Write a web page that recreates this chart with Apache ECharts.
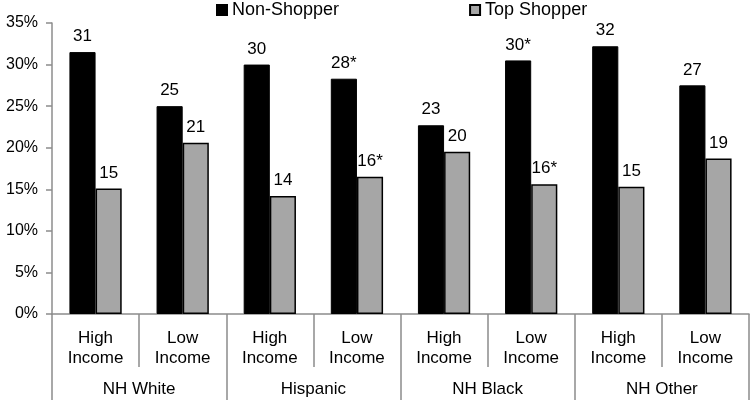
<!DOCTYPE html>
<html>
<head>
<meta charset="utf-8">
<script src="https://cdn.jsdelivr.net/npm/echarts@6/dist/echarts.min.js"></script>
<style>
  html, body { margin: 0; padding: 0; background: #fff; }
  #chart { width: 750px; height: 400px; }
</style>
</head>
<body>
<div id="chart"></div>
<script>
// 数据
const incomeLabels = ['High\nIncome', 'Low\nIncome', 'High\nIncome', 'Low\nIncome', 'High\nIncome', 'Low\nIncome', 'High\nIncome', 'Low\nIncome']
const groupLabels = ['NH White', 'Hispanic', 'NH Black', 'NH Other']
const nonShopper = [31.5, 25.0, 30.0, 28.3, 22.7, 30.5, 32.2, 27.5]
const topShopper = [15.1, 20.6, 14.2, 16.5, 19.5, 15.6, 15.3, 18.7]
const nonShopperText = ['31', '25', '30', '28*', '23', '30*', '32', '27']
const topShopperText = ['15', '21', '14', '16*', '20', '16*', '15', '19']
const yTicks = [0, 5, 10, 15, 20, 25, 30, 35]

const font = 'Liberation Sans, Arial, sans-serif'
const axisGray = '#8c8c8c'

const chart = echarts.init(document.getElementById('chart'))
const option = {
  animation: false,
  textStyle: { fontFamily: font },
  legend: {
    top: 1,
    left: 216,
    padding: 0,
    itemWidth: 10,
    itemHeight: 10,
    itemGap: 130,
    icon: 'rect',
    textStyle: { fontSize: 18, color: '#000', fontFamily: font },
    data: ['Non-Shopper', 'Top Shopper']
  },
  grid: {
    left: 52,
    right: 1,
    top: 23,
    bottom: 86
  },
  xAxis: [
    {
      type: 'category',
      data: incomeLabels,
      axisLine: { lineStyle: { color: axisGray, width: 1.5 } },
      axisTick: { show: true, interval: 0, length: 53, lineStyle: { color: axisGray, width: 1.5 } },
      axisLabel: { interval: 0, margin: 14, fontSize: 17, lineHeight: 20, color: '#000', fontFamily: font }
    },
    {
      type: 'category',
      position: 'bottom',
      data: groupLabels,
      axisLine: { show: false },
      axisTick: { show: true, interval: 0, length: 86, lineStyle: { color: axisGray, width: 1.5 } },
      axisLabel: { interval: 0, margin: 67, fontSize: 17, color: '#000', fontFamily: font }
    }
  ],
  yAxis: {
    type: 'value',
    min: yTicks[0],
    max: yTicks[yTicks.length - 1],
    interval: 5,
    splitLine: { show: false },
    axisLine: { show: true, lineStyle: { color: axisGray, width: 1.5 } },
    axisTick: { show: true, length: 6, lineStyle: { color: axisGray, width: 1.5 } },
    axisLabel: { formatter: '{value}%', fontSize: 16, margin: 14, color: '#000', fontFamily: font }
  },
  series: [
    {
      name: 'Non-Shopper',
      type: 'bar',
      xAxisIndex: 0,
      data: nonShopper,
      barGap: '0%',
      barCategoryGap: '40%',
      itemStyle: { color: '#000', borderColor: '#000', borderWidth: 1 },
      label: {
        show: true,
        position: 'top',
        distance: 7,
        fontSize: 17,
        color: '#000',
        fontFamily: font,
        formatter: (p) => nonShopperText[p.dataIndex]
      }
    },
    {
      name: 'Top Shopper',
      type: 'bar',
      xAxisIndex: 0,
      data: topShopper,
      itemStyle: { color: '#a6a6a6', borderColor: '#000', borderWidth: 1.5 },
      label: {
        show: true,
        position: 'top',
        distance: 7,
        fontSize: 17,
        color: '#000',
        fontFamily: font,
        formatter: (p) => topShopperText[p.dataIndex]
      }
    }
  ]
}
chart.setOption(option)
</script>
</body>
</html>
